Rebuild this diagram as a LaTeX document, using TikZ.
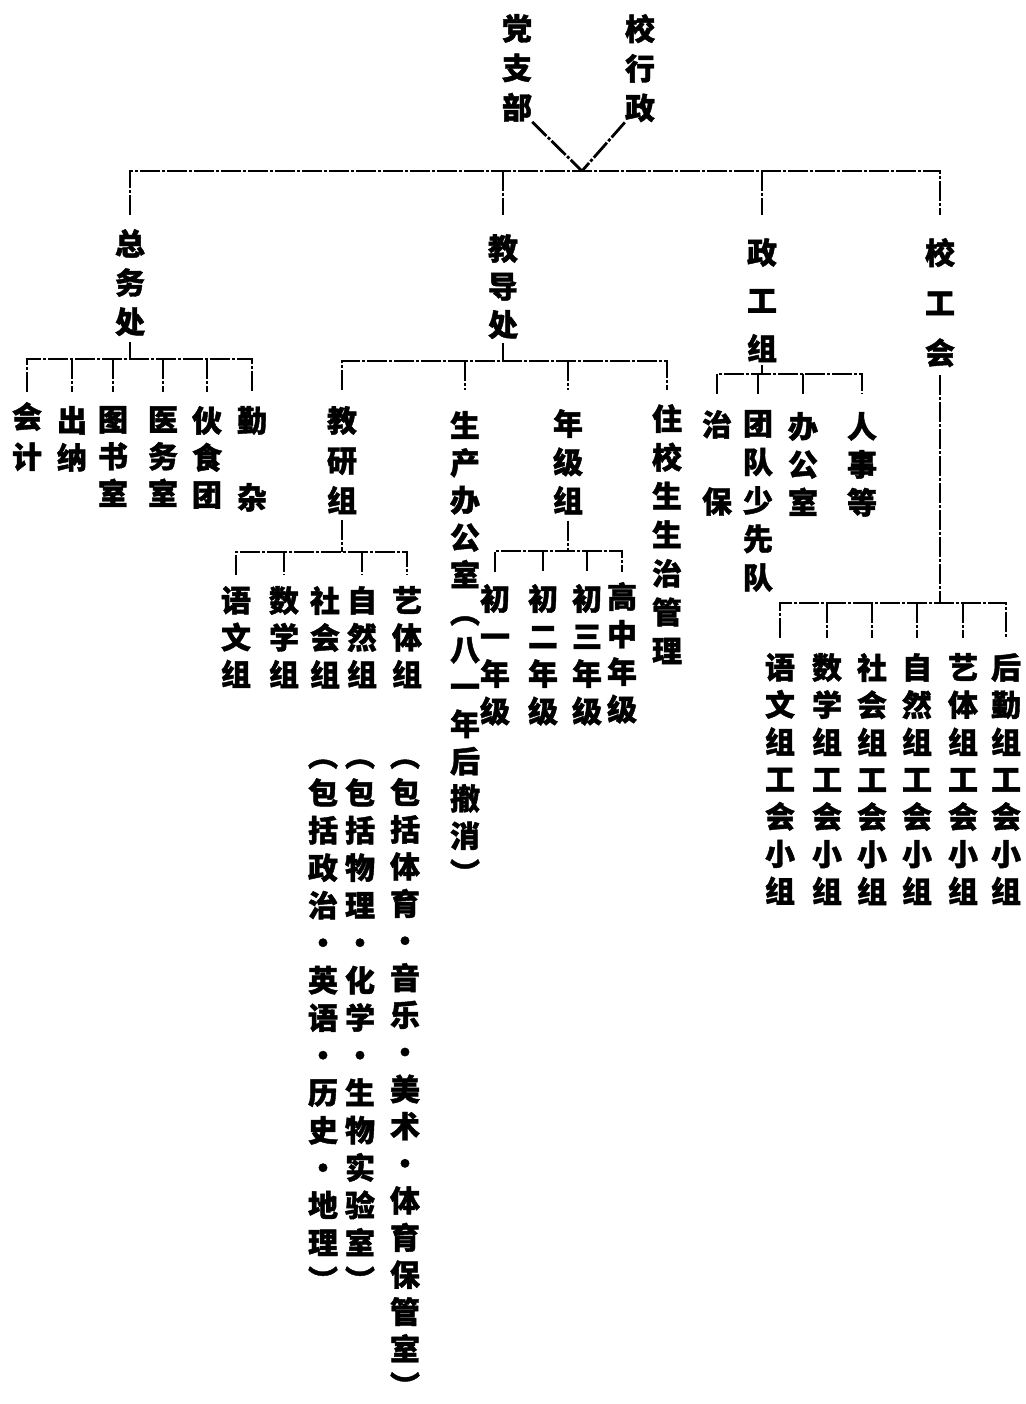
\documentclass[tikz,border=0pt]{standalone}
\usepackage{fontspec}
\usepackage{graphicx}
\newfontfamily\cjk[FakeBold=1.4]{Noto Sans CJK SC}
\tikzset{
  ln/.style={line width=2.8pt, dash pattern=on 20pt off 2pt on 3pt off 2pt},
  vt/.style={align=center, inner sep=0pt, anchor=north, font=\cjk\bfseries\fontsize{30}{#1}\selectfont},
  vt/.default=38
}
\newcommand\vlab[5]{\node[vt=#4] (#1) at (#2,#3-14) {\vphantom{国}#5};}
\newcommand\lpar{\rotatebox[origin=c]{-90}{（}}
\newcommand\rpar{\smash{\rotatebox[origin=c]{-90}{）}}}
\begin{document}
\begin{tikzpicture}[x=1pt,y=-1pt]
\useasboundingbox (0,0) rectangle (1025,1404);
% ---- top
\vlab{dzb}{517}{28}{39.5}{党\\支\\部}
\vlab{xxz}{640}{28}{39.5}{校\\行\\政}
% ---- level 1
\vlab{zw}{130}{243}{39}{总\\务\\处}
\vlab{jd}{503}{248}{38}{教\\导\\处}
\vlab{zg}{762}{252}{48}{政\\工\\组}
\vlab{xg}{940}{252}{50}{校\\工\\会}
% ---- under 总务处
\vlab{kj}{27}{416}{40}{会\\计}
\vlab{cn}{72}{420}{37}{出\\纳}
\vlab{ts}{113}{420}{37}{图\\书\\室}
\vlab{yw}{163}{420}{37}{医\\务\\室}
\vlab{hs}{207}{420}{37}{伙\\食\\团}
\vlab{qz}{252}{420}{38.5}{勤\\\vphantom{国}\\杂}
% ---- under 教导处
\vlab{jy}{342}{420}{40}{教\\研\\组}
\vlab{sc}{465}{425}{37.3}{生\\产\\办\\公\\室\\\lpar\\八\\一\\年\\后\\撤\\消\\\rpar}
\vlab{nj}{568}{423}{38.5}{年\\级\\组}
\vlab{zx}{667}{418}{38.7}{住\\校\\生\\生\\治\\管\\理}
% ---- under 政工组
\vlab{zb}{717}{424}{38.5}{治\\\vphantom{国}\\保}
\vlab{td}{758}{424}{38.5}{团\\队\\少\\先\\队}
\vlab{bg}{803}{426}{38}{办\\公\\室}
\vlab{rs}{862}{426}{38}{人\\事\\等}
% ---- under 校工会
\vlab{gha}{780}{667}{37.3}{语\\文\\组\\工\\会\\小\\组}
\vlab{ghb}{827}{667}{37.3}{数\\学\\组\\工\\会\\小\\组}
\vlab{ghc}{872}{667}{37.3}{社\\会\\组\\工\\会\\小\\组}
\vlab{ghd}{917}{667}{37.3}{自\\然\\组\\工\\会\\小\\组}
\vlab{ghe}{963}{667}{37.3}{艺\\体\\组\\工\\会\\小\\组}
\vlab{ghf}{1006}{667}{37.3}{后\\勤\\组\\工\\会\\小\\组}
% ---- under 教研组
\vlab{ywz}{236}{600}{37}{语\\文\\组}
\vlab{sxz}{284}{600}{37}{数\\学\\组}
\vlab{shz}{325}{600}{37}{社\\会\\组}
\vlab{zrz}{362}{600}{37}{自\\然\\组}
\vlab{ytz}{407}{600}{37}{艺\\体\\组}
% ---- under 年级组
\vlab{cya}{495}{598}{37.5}{初\\一\\年\\级}
\vlab{cyb}{543}{598}{37.5}{初\\二\\年\\级}
\vlab{cyc}{587}{598}{37.5}{初\\三\\年\\级}
\vlab{gzn}{622}{596}{37.5}{高\\中\\年\\级}
% ---- notes
\vlab{nsh}{323}{754}{37.5}{\lpar\\包\\括\\政\\治\\・\\英\\语\\・\\历\\史\\・\\地\\理\\\rpar}
\vlab{nzr}{360}{754}{37.5}{\lpar\\包\\括\\物\\理\\・\\化\\学\\・\\生\\物\\实\\验\\室\\\rpar}
\vlab{nyt}{405}{754}{37.1}{\lpar\\包\\括\\体\\育\\・\\音\\乐\\・\\美\\术\\・\\体\\育\\保\\管\\室\\\rpar}
% ---- connectors
\coordinate (top) at (582,171);
\draw[ln] (dzb.south east) -- (top);
\draw[ln] (xxz.south west) -- (top);
\coordinate (bar1) at (0,171);
\coordinate (end1) at (0,215);
\draw[ln] (zw.north |- end1) |- (xg.north |- bar1) -- (xg.north |- end1);
\foreach \n in {jd,zg} \draw[ln] (\n.north |- bar1) -- (\n.north |- end1);
% 总务处
\coordinate (bar2a) at (0,359);
\coordinate (end2a) at (0,392);
\draw[ln, shorten <=6pt] (zw.south) -- (zw.south |- bar2a);
\draw[ln] (kj.north |- end2a) |- (qz.north |- bar2a) -- (qz.north |- end2a);
\foreach \n in {cn,ts,yw,hs} \draw[ln] (\n.north |- bar2a) -- (\n.north |- end2a);
% 教导处
\coordinate (bar2b) at (0,361);
\coordinate (end2b) at (0,390);
\draw[ln, shorten <=4pt] (jd.south) -- (jd.south |- bar2b);
\draw[ln] (jy.north |- end2b) |- (zx.north |- bar2b) -- (zx.north |- end2b);
\foreach \n in {sc,nj} \draw[ln] (\n.north |- bar2b) -- (\n.north |- end2b);
% 政工组
\coordinate (bar2c) at (0,374);
\coordinate (end2c) at (0,394);
\draw[ln, shorten <=3pt] (zg.south) -- (zg.south |- bar2c);
\draw[ln] (zb.north |- end2c) |- (rs.north |- bar2c) -- (rs.north |- end2c);
\foreach \n in {td,bg} \draw[ln] (\n.north |- bar2c) -- (\n.north |- end2c);
% 校工会
\coordinate (bar2d) at (0,603);
\coordinate (end2d) at (0,638);
\draw[ln, shorten <=8pt] (xg.south) -- (xg.south |- bar2d);
\draw[ln] (gha.north |- end2d) |- (ghf.north |- bar2d) -- (ghf.north |- end2d);
\foreach \n in {ghb,ghc,ghd,ghe} \draw[ln] (\n.north |- bar2d) -- (\n.north |- end2d);
% 教研组
\coordinate (bar3a) at (0,552);
\coordinate (end3a) at (0,575);
\draw[ln, shorten <=6pt] (jy.south) -- (jy.south |- bar3a);
\draw[ln] (ywz.north |- end3a) |- (ytz.north |- bar3a) -- (ytz.north |- end3a);
\foreach \n in {sxz,zrz} \draw[ln] (\n.north |- bar3a) -- (\n.north |- end3a);
% 年级组
\coordinate (bar3b) at (0,551);
\coordinate (end3b) at (0,572);
\draw[ln, shorten <=6pt] (nj.south) -- (nj.south |- bar3b);
\draw[ln] (cya.north |- end3b) |- (gzn.north |- bar3b) -- (gzn.north |- end3b);
\foreach \n in {cyb,cyc} \draw[ln] (\n.north |- bar3b) -- (\n.north |- end3b);
\end{tikzpicture}
\end{document}
